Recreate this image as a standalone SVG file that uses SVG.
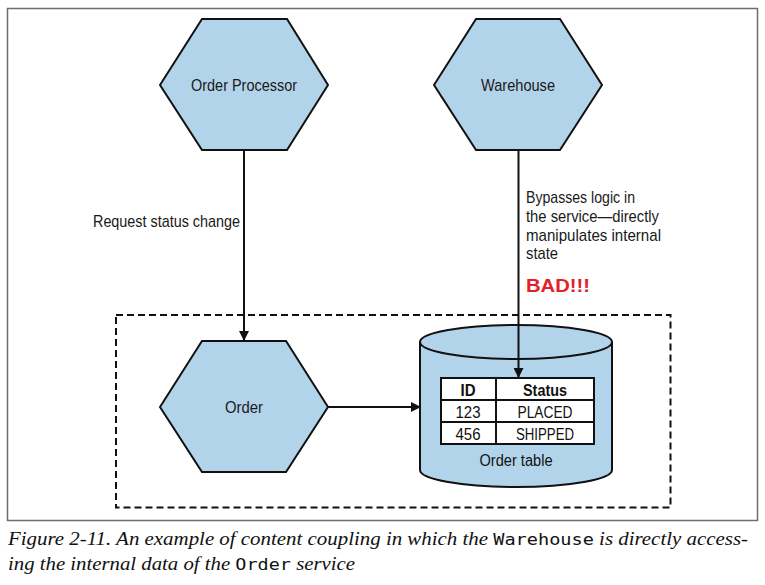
<svg xmlns="http://www.w3.org/2000/svg" width="765" height="585" viewBox="0 0 765 585">
<defs>
<marker id="ah" markerWidth="10" markerHeight="10" refX="9" refY="5" orient="auto" markerUnits="userSpaceOnUse">
<path d="M0,0 L10,5 L0,10 Z" fill="#111"/>
</marker>
<style>
.hex{fill:#b2d4ea;stroke:#111;stroke-width:2;stroke-linejoin:miter}
.lbl{font-family:"Liberation Sans",Arial,sans-serif;font-size:17px;fill:#1a1a1a}
.conn{stroke:#111;stroke-width:2;fill:none}
.tbl{font-family:"Liberation Sans",Arial,sans-serif;font-size:16px;fill:#111;text-anchor:middle}
.cap{font-family:"Liberation Serif","Times New Roman",serif;font-style:italic;font-size:18px;fill:#111}
.mono{font-family:"DejaVu Sans Mono","Liberation Mono",monospace;font-style:normal;font-size:16px}
</style>
</defs>
<rect x="7.5" y="8.5" width="750" height="512" fill="#fff" stroke="#6e6e6e" stroke-width="1.5"/>
<rect id="boundary" x="116" y="315" width="554.5" height="192.5" fill="none" stroke="#111" stroke-width="2" stroke-dasharray="7,4"/>
<g id="order-processor">
<polygon class="hex" points="160,85 202,19 287,19 328,85 287,150 202,150"/>
<text class="lbl" x="244" y="91" text-anchor="middle" textLength="106" lengthAdjust="spacingAndGlyphs">Order Processor</text>
</g>
<g id="warehouse">
<polygon class="hex" points="434,85 476,19 560,19 602,85 560,150 476,150"/>
<text class="lbl" x="518" y="91" text-anchor="middle" textLength="74" lengthAdjust="spacingAndGlyphs">Warehouse</text>
</g>
<g id="order">
<polygon class="hex" points="160,407 202,341 286,341 328,407 286,472 202,472"/>
<text class="lbl" x="244" y="413" text-anchor="middle" textLength="38" lengthAdjust="spacingAndGlyphs">Order</text>
</g>
<g id="order-table">
<path d="M420,342 L420,470 A96,17 0 0 0 612,470 L612,342" fill="#b2d4ea" stroke="#111" stroke-width="2"/>
<ellipse cx="516" cy="342" rx="96" ry="17" fill="#b2d4ea" stroke="#111" stroke-width="2"/>
<rect x="441" y="378" width="153" height="66" fill="#fff" stroke="#111" stroke-width="2"/>
<line x1="441" y1="400" x2="594" y2="400" stroke="#111" stroke-width="2"/>
<line x1="441" y1="422" x2="594" y2="422" stroke="#111" stroke-width="2"/>
<line x1="496" y1="378" x2="496" y2="444" stroke="#111" stroke-width="2"/>
<text class="tbl" x="468" y="395.5" font-weight="bold" textLength="15" lengthAdjust="spacingAndGlyphs">ID</text>
<text class="tbl" x="545" y="395.5" font-weight="bold" textLength="44" lengthAdjust="spacingAndGlyphs">Status</text>
<text class="tbl" x="468" y="417.5" textLength="25" lengthAdjust="spacingAndGlyphs">123</text>
<text class="tbl" x="545" y="417.5" textLength="55" lengthAdjust="spacingAndGlyphs">PLACED</text>
<text class="tbl" x="468" y="439.5" textLength="25" lengthAdjust="spacingAndGlyphs">456</text>
<text class="tbl" x="545" y="439.5" textLength="58" lengthAdjust="spacingAndGlyphs">SHIPPED</text>
<text class="tbl" x="516" y="466" font-size="17" textLength="73" lengthAdjust="spacingAndGlyphs">Order table</text>
</g>
<g id="connectors">
<line class="conn" x1="244" y1="150" x2="244" y2="340" marker-end="url(#ah)"/>
<line class="conn" x1="518.5" y1="150" x2="518.5" y2="377" marker-end="url(#ah)"/>
<line class="conn" x1="328" y1="407" x2="420" y2="407" marker-end="url(#ah)"/>
<text class="lbl" x="240" y="227" text-anchor="end" textLength="147" lengthAdjust="spacingAndGlyphs">Request status change</text>
<text class="lbl" x="526" y="203" textLength="109" lengthAdjust="spacingAndGlyphs">Bypasses logic in</text>
<text class="lbl" x="526" y="222" textLength="133" lengthAdjust="spacingAndGlyphs">the service—directly</text>
<text class="lbl" x="526" y="241" textLength="135" lengthAdjust="spacingAndGlyphs">manipulates internal</text>
<text class="lbl" x="526" y="259" textLength="32" lengthAdjust="spacingAndGlyphs">state</text>
<text x="526" y="292" font-family="'Liberation Sans',Arial,sans-serif" font-weight="bold" font-size="19" fill="#e3202a" textLength="64" lengthAdjust="spacingAndGlyphs">BAD!!!</text>
</g>
<text class="cap" x="8" y="545" textLength="740" lengthAdjust="spacingAndGlyphs">Figure 2-11. An example of content coupling in which the <tspan class="mono">Warehouse</tspan> is directly access-</text>
<text class="cap" x="8" y="570" textLength="347" lengthAdjust="spacingAndGlyphs">ing the internal data of the <tspan class="mono">Order</tspan> service</text>
</svg>
